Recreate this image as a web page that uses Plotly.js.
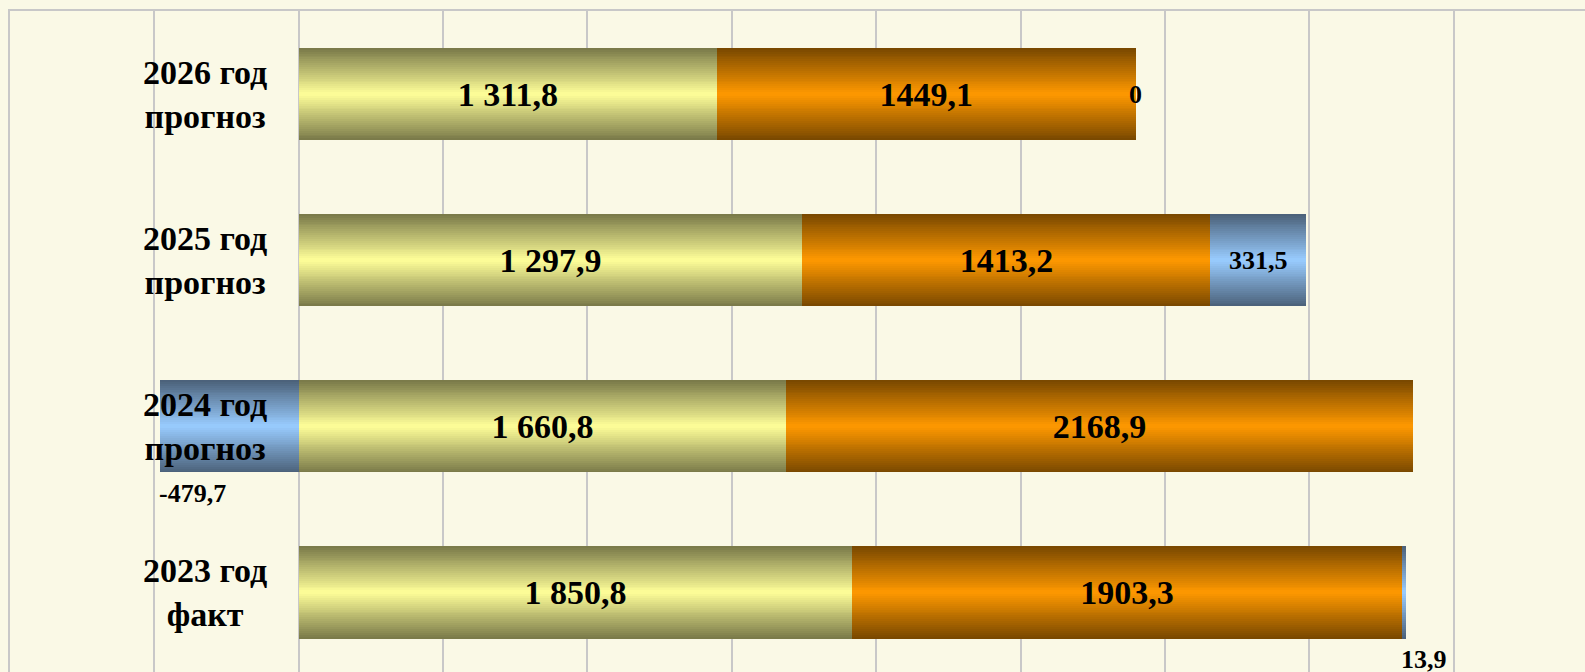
<!DOCTYPE html>
<html><head><meta charset="utf-8">
<script src="https://cdn.plot.ly/plotly-3.0.1.min.js"></script>
<style>html,body{margin:0;padding:0;background:#FAF9E6;}#chart{width:1585px;height:672px;}</style>
</head><body><div id="chart"></div>
<script>
// ---- data ----
const categories = ['2023 год<br>факт', '2024 год<br>прогноз', '2025 год<br>прогноз', '2026 год<br>прогноз'];
const yellowValues = [1917.2, 1689.2, 1744.7, 1449.1];
const yellowLabels = ['1 850,8', '1 660,8', '1 297,9', '1 311,8'];
const orangeValues = [1903.3, 2168.9, 1413.2, 1449.1];
const orangeLabels = ['1903,3', '2168,9', '1413,2', '1449,1'];
const blueValues = [13.9, -479.7, 331.5, 0];
const blueLabels = ['13,9', '-479,7', '331,5', '0'];

// ---- style ----
const FONT = 'Liberation Serif, "Times New Roman", serif';
const BG = '#FAF9E6';
const GRID = '#C8C8C8';
const BAR_W = 0.557;
const STEPS = 24;
const palettes = {
  yellow: {dark: [120, 120, 72], light: [255, 255, 153]},
  orange: {dark: [119, 71, 0], light: [255, 153, 0]},
  blue:   {dark: [74, 96, 120], light: [153, 204, 255]}
};

function mix(p, t) {
  const c = p.dark.map((d, i) => Math.round(d + (p.light[i] - d) * t));
  return 'rgb(' + c.join(',') + ')';
}

// bases derived from the data (stacking)
const yellowBase = yellowValues.map(() => 0);
const orangeBase = yellowValues.slice();
const blueBase = blueValues.map((v, i) => v >= 0 ? yellowValues[i] + orangeValues[i] : 0);

const traces = [];
function addSeries(values, base, pal, labels, fontSize) {
  for (let k = 0; k < STEPS; k++) {
    traces.push({
      type: 'bar', orientation: 'h', y: categories, x: values, base: base,
      width: BAR_W * (STEPS - k) / STEPS,
      marker: {color: mix(pal, (k + 0.5) / STEPS), line: {width: 0}},
      hoverinfo: 'skip', showlegend: false
    });
  }
  traces.push({
    type: 'bar', orientation: 'h', y: categories, x: values, base: base,
    width: BAR_W, marker: {color: 'rgba(0,0,0,0)', line: {width: 0}},
    text: labels, textposition: 'inside', insidetextanchor: 'middle',
    textangle: 0, constraintext: 'none', cliponaxis: false,
    textfont: {family: FONT, size: fontSize, color: '#000', weight: 'bold'},
    hoverinfo: 'skip', showlegend: false
  });
}

addSeries(yellowValues, yellowBase, palettes.yellow, yellowLabels, 34);
addSeries(orangeValues, orangeBase, palettes.orange, orangeLabels, 34);
const blueInside = blueLabels.map((l, i) => blueValues[i] > 100 ? l : '');
addSeries(blueValues, blueBase, palettes.blue, blueInside, 26);

const annotations = [];
categories.forEach((c) => {
  annotations.push({
    x: 0, y: c, xref: 'x', yref: 'y', text: c, showarrow: false,
    xanchor: 'right', yanchor: 'middle', xshift: -30, align: 'center',
    font: {family: FONT, size: 34, color: '#000', weight: 'bold'}
  });
});
blueValues.forEach((v, i) => {
  if (v > 100) return;
  const lf = {family: FONT, size: 26, color: '#000', weight: 'bold'};
  if (v === 0) {
    annotations.push({
      x: blueBase[i], y: categories[i], text: blueLabels[i], showarrow: false,
      xanchor: 'center', yanchor: 'middle', font: lf
    });
  } else {
    annotations.push({
      x: Math.min(blueBase[i], blueBase[i] + v), y: categories[i], text: blueLabels[i], showarrow: false,
      xanchor: 'left', yanchor: 'middle', yshift: -67, xshift: -3, font: lf
    });
  }
});

const layout = {
  width: 1585, height: 672,
  margin: {l: 9.5, r: 0, t: 10.5, b: 0, pad: 0, autoexpand: false},
  paper_bgcolor: BG, plot_bgcolor: BG,
  barmode: 'overlay', bargap: 0,
  xaxis: {
    range: [-1000, 4455], tick0: 0, dtick: 500, showticklabels: false, ticks: '',
    showgrid: true, gridcolor: GRID, gridwidth: 2,
    zeroline: true, zerolinecolor: GRID, zerolinewidth: 2,
    side: 'top', showline: true, linecolor: GRID, linewidth: 2, fixedrange: true
  },
  yaxis: {
    type: 'category', categoryorder: 'array', categoryarray: categories,
    range: [-0.48, 3.5], showgrid: false, showticklabels: false, ticks: '',
    zeroline: false, showline: true, linecolor: GRID, linewidth: 2, fixedrange: true
  },
  annotations: annotations,
  font: {family: FONT}
};

Plotly.newPlot('chart', traces, layout, {displayModeBar: false, staticPlot: true});
</script>
</body></html>
